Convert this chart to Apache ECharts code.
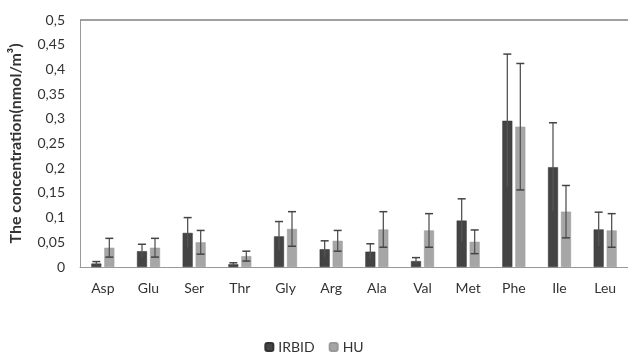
<!DOCTYPE html>
<html><head><meta charset="utf-8">
<script src="https://cdn.jsdelivr.net/npm/echarts@6/dist/echarts.min.js"></script>
<style>html,body{margin:0;padding:0;background:#fff}#c{width:628px;height:359px}</style>
</head><body><div id="c"></div>
<script>
var categories = ['Asp','Glu','Ser','Thr','Gly','Arg','Ala','Val','Met','Phe','Ile','Leu'];
var irbid = [0.007,0.032,0.069,0.0055,0.062,0.036,0.031,0.012,0.094,0.296,0.202,0.076];
var irbidErr = [0.004,0.014,0.031,0.003,0.030,0.017,0.016,0.007,0.044,0.135,0.090,0.035];
var hu = [0.039,0.039,0.050,0.022,0.077,0.053,0.076,0.074,0.051,0.284,0.112,0.074];
var huErr = [0.019,0.019,0.024,0.010,0.035,0.021,0.036,0.034,0.024,0.128,0.053,0.034];
var yTicks = ['0','0,05','0,1','0,15','0,2','0,25','0,3','0,35','0,4','0,45','0,5'];

var FONT = 'Lato, "Open Sans", sans-serif';
var chart = echarts.init(document.getElementById('c'));

function errSeries(vals, errs, offset) {
  return {
    type: 'custom',
    z: 10,
    silent: true,
    data: vals.map(function (v, i) { return [i, v, errs[i]]; }),
    renderItem: function (params, api) {
      var i = api.value(0), v = api.value(1), e = api.value(2);
      var top = api.coord([i, v + e]);
      var bot = api.coord([i, v - e]);
      var x = top[0] + offset;
      return {
        type: 'group',
        children: [
          {type: 'line', shape: {x1: x, y1: top[1], x2: x, y2: bot[1]}, style: {stroke: '#555', lineWidth: 1.3}},
          {type: 'line', shape: {x1: x - 4, y1: top[1], x2: x + 4, y2: top[1]}, style: {stroke: '#444', lineWidth: 1.5}},
          {type: 'line', shape: {x1: x - 4, y1: bot[1], x2: x + 4, y2: bot[1]}, style: {stroke: '#444', lineWidth: 1.5}}
        ]
      };
    }
  };
}

chart.setOption({
  animation: false,
  grid: {left: 80, top: 20, width: 549, height: 247, containLabel: false},
  legend: {
    bottom: 0, left: 'center', itemWidth: 8, itemHeight: 8, itemGap: 14,
    textStyle: {fontFamily: FONT, fontSize: 14, color: '#333'},
    data: ['IRBID', 'HU']
  },
  xAxis: {
    type: 'category', data: categories,
    axisTick: {show: false},
    axisLine: {lineStyle: {color: '#999', width: 1}},
    axisLabel: {fontFamily: FONT, fontSize: 14, color: '#333', margin: 14}
  },
  yAxis: {
    type: 'value', min: 0, max: 0.5, interval: 0.05,
    name: 'The concentration(nmol/m³)', nameLocation: 'middle', nameGap: 56,
    nameTextStyle: {fontFamily: FONT, fontSize: 16, fontWeight: 'bold', color: '#333'},
    axisLine: {show: true, lineStyle: {color: '#999'}},
    axisTick: {show: false},
    splitLine: {show: false},
    axisLabel: {
      fontFamily: FONT, fontSize: 14, color: '#333', margin: 15,
      formatter: function (v) { return yTicks[Math.round(v / 0.05)]; }
    }
  },
  graphic: [{type: 'line', shape: {x1: 80, y1: 20, x2: 628, y2: 20}, style: {stroke: '#a0a0a0', lineWidth: 2}}],
  series: [
    {name: 'IRBID', type: 'bar', data: irbid, barWidth: 10, barGap: '30%',
     itemStyle: {color: '#444444', borderColor: '#333', borderWidth: 0.5}},
    {name: 'HU', type: 'bar', data: hu, barWidth: 10,
     itemStyle: {color: '#a6a6a6', borderColor: '#999', borderWidth: 0.5}},
    errSeries(irbid, irbidErr, -6.5),
    errSeries(hu, huErr, 6.5)
  ]
});
</script></body></html>
